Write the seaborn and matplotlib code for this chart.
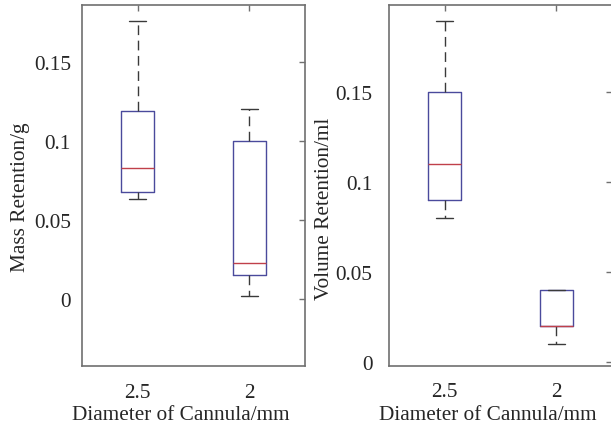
import numpy as np
import pandas as pd
import matplotlib
matplotlib.use("Agg")
import matplotlib.pyplot as plt
import seaborn as sns

# Categories (cannula diameter, mm)
diameters = ["2.5", "2"]

# Five-number summaries: min, Q1, median, Q3, max
mass_d25 = [0.063, 0.068, 0.083, 0.119, 0.176]
mass_d2 = [0.002, 0.015, 0.023, 0.100, 0.120]
vol_d25 = [0.080, 0.090, 0.110, 0.150, 0.190]
vol_d2 = [0.010, 0.020, 0.020, 0.040, 0.040]

mass_ticks = [0, 0.05, 0.1, 0.15]
mass_ticklabels = ["0", "0.05", "0.1", "0.15"]
vol_ticks = [0, 0.05, 0.1, 0.15]
vol_ticklabels = ["0", "0.05", "0.1", "0.15"]

xlabel = "Diameter of Cannula/mm"
ylabel_mass = "Mass Retention/g"
ylabel_vol = "Volume Retention/ml"

sns.set_style("white")
plt.rcParams["font.family"] = ["Liberation Serif", "DejaVu Serif"]

def make_df(a, b):
    return pd.DataFrame({
        "diameter": [diameters[0]] * len(a) + [diameters[1]] * len(b),
        "value": list(a) + list(b),
    })

mass_df = make_df(mass_d25, mass_d2)
vol_df = make_df(vol_d25, vol_d2)

fig = plt.figure(figsize=(6.11, 4.31), dpi=100)
ax1 = fig.add_axes([82 / 611, 64 / 431, 223 / 611, 361.3 / 431])
ax2 = fig.add_axes([389 / 611, 64.5 / 431, 223 / 611, 361 / 431])

box_c = "#4a4a9c"
med_c = "#c0404a"
wh_c = "#3a3a3a"
frame_c = "#707070"
text_c = "#262626"
fs = 15.3

common = dict(
    x="diameter", y="value", order=diameters, width=0.3, fill=False,
    whis=1.5, linewidth=1.0,
    boxprops=dict(color=box_c, linewidth=1.0),
    medianprops=dict(color=med_c, linewidth=1.0),
    whiskerprops=dict(color=wh_c, linewidth=1.0, linestyle=(0, (7, 4))),
    capprops=dict(color=wh_c, linewidth=1.0),
    showfliers=False,
)

sns.boxplot(data=mass_df, ax=ax1, **common)
sns.boxplot(data=vol_df, ax=ax2, **common)

ax1.set_ylim(-0.0424, 0.1863)
ax2.set_ylim(-0.0022, 0.199)

for ax, ticks, tl, yl, ypad, ylx, yly in [
    (ax1, mass_ticks, mass_ticklabels, ylabel_mass, 8, -0.274, 0.47),
    (ax2, vol_ticks, vol_ticklabels, ylabel_vol, 12, -0.29, 0.437),
]:
    ax.set_xlim(-0.5, 1.5)
    ax.set_yticks(ticks)
    ax.set_yticklabels(tl)
    ax.set_xlabel(xlabel, fontsize=fs, color=text_c)
    ax.set_ylabel(yl, fontsize=fs, color=text_c)
    ax.yaxis.set_label_coords(ylx, yly)
    ax.yaxis.label.set_va("center")
    ax.xaxis.set_label_coords(0.445, -0.135)
    ax.xaxis.label.set_va("center")
    ax.tick_params(axis="both", direction="in", length=4, width=1.0,
                   color=frame_c, labelsize=fs, labelcolor=text_c,
                   top=True, right=True)
    ax.tick_params(axis="y", pad=ypad)
    ax.tick_params(axis="x", pad=12)
    for s in ax.spines.values():
        s.set_visible(True)
        s.set_color(frame_c)
        s.set_linewidth(1.2)
    ax.set_facecolor("white")

fig.savefig("out.png", dpi=100, facecolor="white")
